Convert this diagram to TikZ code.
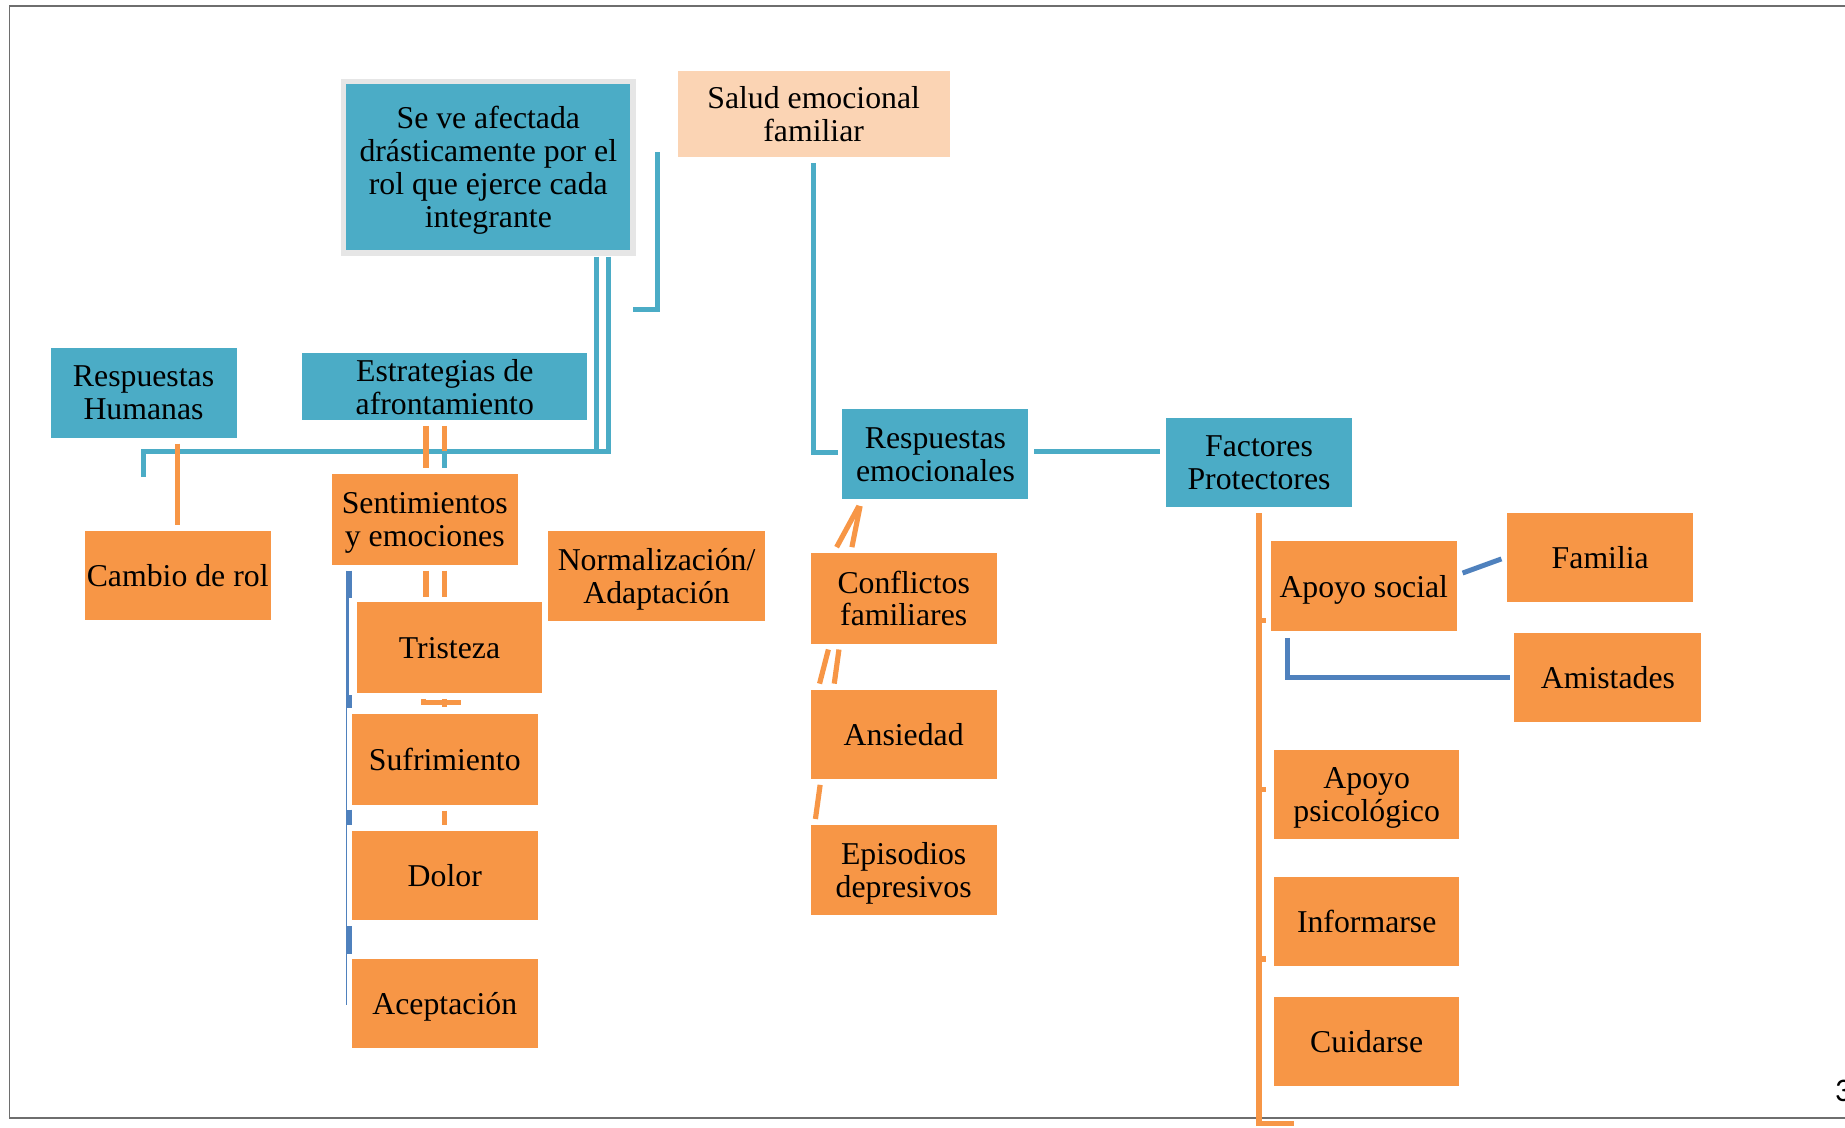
\documentclass[tikz,border=0pt]{standalone}
\usepackage{fontspec}
\setmainfont{Liberation Serif}
\newfontfamily\numfont{Carlito}
\usetikzlibrary{calc}
\definecolor{tealc}{HTML}{4BACC6}
\definecolor{orc}{HTML}{F79646}
\definecolor{peachc}{HTML}{FBD4B4}
\definecolor{bluec}{HTML}{4F81BD}
\definecolor{grayb}{HTML}{E6E6E6}
\definecolor{framec}{HTML}{6E6E6E}
\begin{document}
\begin{tikzpicture}[x=0.5pt,y=-0.5pt,
  bx/.style={rectangle, inner sep=0pt, outer sep=0pt, align=center, text=black,
    text depth=0pt, font=\fontsize{13.5}{14}\selectfont},
  tealbox/.style={bx, fill=tealc},
  orbox/.style={bx, fill=orc},
  peachbox/.style={bx, fill=peachc},
  tl/.style={draw=tealc, line width=2.1pt},
  ol/.style={draw=orc, line width=2.2pt},
  bl/.style={draw=bluec, line width=2.1pt},
  frameline/.style={draw=framec, line width=0.6pt}]
\useasboundingbox (0,0) rectangle (1568,958);
% frame
\draw[frameline] (1568,5) -- (8,5) -- (8,950) -- (1568,950);
% nodes
\node[tealbox, draw=grayb, line width=2.25pt, minimum width=123pt, minimum height=73pt] (seve) at (415,142)
  {Se ve afectada\\drásticamente por el\\rol que ejerce cada\\integrante};
\node[peachbox, minimum width=115.5pt, minimum height=36.5pt] (salud) at (691.5,97) {Salud emocional\\familiar};
\node[tealbox, minimum width=79pt, minimum height=38pt] (rh) at (122,334) {Respuestas\\Humanas};
\node[tealbox, minimum width=121pt, minimum height=28.5pt] (estr) at (378,328.5) {Estrategias de\\afrontamiento};
\node[orbox, minimum width=79pt, minimum height=38pt] (cambio) at (151,489) {Cambio de rol};
\node[orbox, minimum width=79pt, minimum height=38.5pt] (sent) at (361,441.5) {Sentimientos\\y emociones};
\node[orbox, minimum width=92pt, minimum height=38.5pt] (norm) at (558,489.5) {Normalización/\\Adaptación};
\node[orbox, minimum width=79pt, minimum height=38.5pt] (tris) at (382,550.5) {Tristeza};
\node[orbox, minimum width=79pt, minimum height=38.5pt] (sufr) at (378,645.5) {Sufrimiento};
\node[orbox, minimum width=79pt, minimum height=38pt] (dolor) at (378,744) {Dolor};
\node[orbox, minimum width=79pt, minimum height=38pt] (acep) at (378,853) {Aceptación};
\node[tealbox, minimum width=79pt, minimum height=38pt] (remo) at (795,386) {Respuestas\\emocionales};
\node[tealbox, minimum width=79pt, minimum height=38pt] (fact) at (1070,393) {Factores\\Protectores};
\node[orbox, minimum width=79pt, minimum height=38pt] (apsoc) at (1159,498) {Apoyo social};
\node[orbox, minimum width=79pt, minimum height=38pt] (fam) at (1360,474) {Familia};
\node[orbox, minimum width=79.5pt, minimum height=38pt] (amis) at (1366.5,576) {Amistades};
\node[orbox, minimum width=78.5pt, minimum height=38pt] (apsic) at (1161.5,675) {Apoyo\\psicológico};
\node[orbox, minimum width=78.5pt, minimum height=38pt] (info) at (1161.5,783) {Informarse};
\node[orbox, minimum width=78.5pt, minimum height=38pt] (cuid) at (1161.5,885) {Cuidarse};
\node[orbox, minimum width=79pt, minimum height=38.5pt] (conf) at (768,508.5) {Conflictos\\familiares};
\node[orbox, minimum width=79pt, minimum height=38pt] (ans) at (768,624) {Ansiedad};
\node[orbox, minimum width=79pt, minimum height=38.5pt] (epi) at (768,739.5) {Episodios\\depresivos};
\node[anchor=west, inner sep=0pt, font=\numfont\fontsize{14}{14}\selectfont] (pg) at (1559,927) {3};
% coordinates
\coordinate (bkt) at (559,129);
\coordinate (bkb) at (559,263);
\coordinate (hj) at (122,384);
\coordinate (hl) at (122,405);
\coordinate (fb) at (1070,955);
\coordinate (fe) at (1100,955);
% teal connectors
\draw[tl] ($(salud.south)+(0,5)$) |- ($(remo.west)+(-4,-1.5)$);
\draw[tl] (seve.east |- bkb) -- (bkb) -- (bkt);
\draw[tl] ($(seve.south)+(92,3)$) -- ($(seve.south)+(92,169)$);
\draw[tl] ($(seve.south)+(102,3)$) |- (hj) -- (hl);
\draw[tl] ($(remo.east)+(5,-2)$) -- ($(fact.west)+(-5,-9)$);
\draw[tl] ($(estr.south)+(0,28)$) -- ($(sent.north)+(17,-5)$);
% orange connectors
\draw[ol] ($(estr.south)+(-16,5)$) -- ($(sent.north)+(1,-5)$);
\draw[ol] ($(estr.south)+(0,5)$) -- ($(estr.south)+(0,26)$);
\draw[ol] ($(cambio.north)+(0,-74)$) -- ($(cambio.north)+(0,-5)$);
\draw[ol] ($(sent.south)+(1,5)$) -- ($(sent.south)+(1,27)$);
\draw[ol] ($(sent.south)+(17,5)$) -- ($(sent.south)+(17,27)$);
\draw[ol, line width=1.8pt] ($(tris.south)+(-22,5)$) -- ($(tris.south)+(-22,8)$) -- ($(tris.south)+(10,8)$);
\draw[ol] ($(sufr.north)+(0,-13)$) -- ($(sufr.north)+(0,-6)$);
\draw[ol] ($(sufr.south)+(0,5)$) -- ($(dolor.north)+(0,-5)$);
\draw[ol] ($(conf.north)+(-57,-5)$) -- ($(remo.south)+(-65,6)$);
\draw[ol] ($(conf.north)+(-44,-5)$) -- ($(remo.south)+(-64,6)$);
\draw[ol] ($(conf.south)+(-64,5)$) -- ($(ans.north)+(-71.5,-5)$);
\draw[ol] ($(conf.south)+(-55,5)$) -- ($(ans.north)+(-59,-5)$);
\draw[ol] ($(ans.south)+(-71,5)$) -- ($(epi.north)+(-75,-5)$);
\draw[ol] ($(fact.south)+(0,5)$) -- (fb) -- (fe);
\draw[ol] ($(apsoc.west)+(-10,29)$) -- ++(6,0);
\draw[ol] ($(apsic.west)+(-13,-4)$) -- ++(6,0);
\draw[ol] ($(info.west)+(-13,32)$) -- ++(6,0);
% blue connectors
\draw[bl] ($(apsoc.east)+(5,-11)$) -- ($(fam.west)+(-5,1)$);
\draw[bl] ($(apsoc.south)+(-65,6)$) |- ($(amis.west)+(-4,0)$);
% blue bracket left of feelings column
\draw[draw=bluec, line width=0.75pt] ($(sent.south west)+(12.5,5)$) -- ($(acep.west)+(-4.5,1)$);
\draw[draw=bluec, line width=2.4pt] ($(sent.south west)+(14.5,5)$) -- ($(sent.south west)+(14.5,28)$);
\draw[draw=bluec, line width=1.5pt] ($(sent.south west)+(13.5,28)$) -- ($(sent.south west)+(13.5,111)$);
\draw[draw=bluec, line width=2.4pt] ($(sent.south west)+(14.5,111)$) -- ($(sent.south west)+(14.5,122)$);
\draw[draw=bluec, line width=2.4pt] ($(dolor.west)+(-2.5,-56)$) -- ($(dolor.west)+(-2.5,-43)$);
\draw[draw=bluec, line width=2.4pt] ($(dolor.west)+(-2.5,43)$) -- ($(dolor.west)+(-2.5,67)$);
\end{tikzpicture}
\end{document}
